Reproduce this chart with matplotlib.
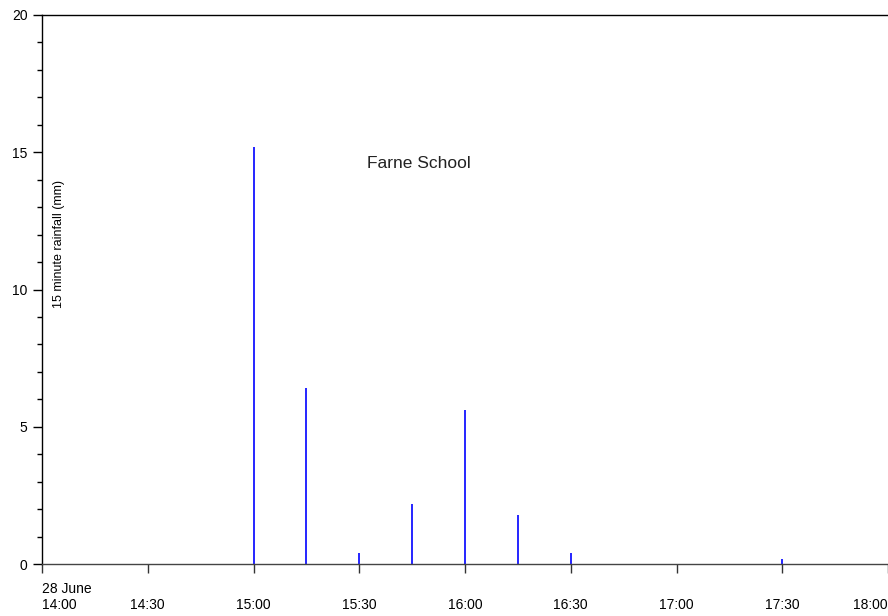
import matplotlib
matplotlib.use("Agg")
import matplotlib.pyplot as plt
import matplotlib.dates as mdates
from matplotlib.ticker import MultipleLocator
import pandas as pd

# ---- data ----
date = "2005-06-28"
times = ["15:00", "15:15", "15:30", "15:45", "16:00", "16:15", "16:30", "17:30"]
rain_mm = [15.2, 6.4, 0.4, 2.2, 5.6, 1.8, 0.4, 0.2]
tick_times = ["14:00", "14:30", "15:00", "15:30", "16:00", "16:30", "17:00", "17:30", "18:00"]
tick_labels = ["28 June\n14:00", "\n14:30", "\n15:00", "\n15:30", "\n16:00",
               "\n16:30", "\n17:00", "\n17:30", "\n18:00"]
title = "Farne School"
ylabel = "15 minute rainfall (mm)"

plt.rcParams['font.family'] = ['Liberation Sans', 'DejaVu Sans']

fig = plt.figure(figsize=(8.88, 6.16), dpi=100)
ax = fig.add_axes([42/888, 1 - 564/616, 1 - 42/888, (564 - 15)/616])

t = pd.to_datetime([f"{date} {x}" for x in times])
ax.vlines(t, 0, rain_mm, color="#0000ff", lw=1.2)

tt = pd.to_datetime([f"{date} {x}" for x in tick_times])
ax.set_xlim(tt[0], tt[-1])
ax.set_ylim(0, 20)
ax.set_xticks(tt)
ax.set_xticklabels(tick_labels, fontsize=10)
labs = ax.get_xticklabels()
labs[0].set_ha("left")
labs[0].set_multialignment("left")
labs[-1].set_ha("right")

ax.yaxis.set_major_locator(MultipleLocator(5))
ax.yaxis.set_minor_locator(MultipleLocator(1))
ax.tick_params(axis="x", direction="out", length=6.5, width=1, pad=6.5, color="#333333")
ax.tick_params(axis="y", which="major", direction="out", length=6.5, width=1, pad=4, labelsize=10)
ax.tick_params(axis="y", which="minor", direction="out", length=3.5, width=1)

for s in ["left", "top"]:
    ax.spines[s].set_linewidth(1.0)
    ax.spines[s].set_color("black")
ax.spines["bottom"].set_color("#444444")
ax.spines["bottom"].set_linewidth(1.0)
ax.spines["right"].set_visible(False)

ax.text((59 - 42)/846, (564 - 244)/549, ylabel, rotation=90, ha="center", va="center",
        fontsize=9, transform=ax.transAxes)
ax.text((419 - 42)/846, (564 - 163)/549, title, ha="center", va="center",
        fontsize=12.5, transform=ax.transAxes, color="#222222")

fig.savefig("out.png", dpi=100)
